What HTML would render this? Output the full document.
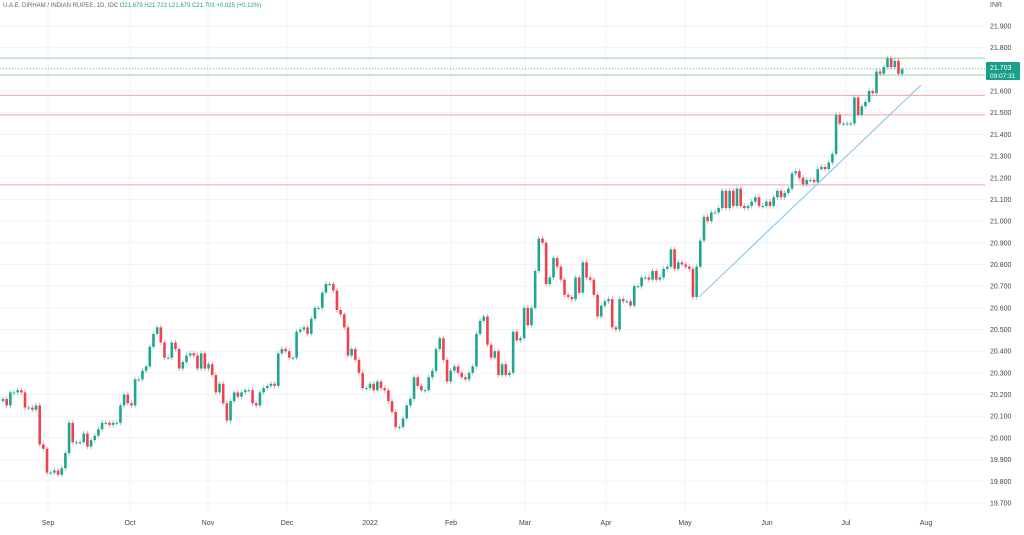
<!DOCTYPE html>
<html><head><meta charset="utf-8"><style>
body{margin:0;background:#fff;font-family:"Liberation Sans",sans-serif}
svg text{font-family:"Liberation Sans",sans-serif}
</style></head><body>
<svg id="chart" width="1024" height="530" xmlns="http://www.w3.org/2000/svg">
<rect width="1024" height="530" fill="#fff"/>
<g id="grid"></g>
<g id="hlines"></g>
<g id="candles"></g>
<line x1="699" y1="297" x2="921" y2="85" stroke="#90c8f0" stroke-width="1.2"/>
<g id="yaxis"></g>
<g id="xaxis"></g>
<text x="990" y="7" font-size="7" fill="#555">INR</text>
<g>
<rect x="986" y="62" width="34" height="18" rx="1" fill="#1a9f88"/>
<text x="990" y="70" font-size="7" fill="#fff">21.703</text>
<text x="990" y="78" font-size="6.5" fill="#fff">09:07:31</text>
</g>
<text x="3" y="7" font-size="6" fill="#666">U.A.E. DIRHAM / INDIAN RUPEE, 1D, IDC <tspan fill="#1a9f88">O21.679 H21.722 L21.679 C21.703 +0.025 (+0.12%)</tspan></text>
</svg>
<script>
const closes=[20.18,20.15,20.21,20.21,20.22,20.21,20.14,20.14,20.13,20.15,19.97,19.95,19.84,19.84,19.85,19.83,19.86,19.93,20.07,19.98,19.98,19.98,20.02,19.96,19.99,20.01,20.04,20.07,20.07,20.06,20.07,20.07,20.15,20.20,20.16,20.15,20.27,20.27,20.31,20.33,20.42,20.48,20.51,20.44,20.37,20.37,20.44,20.41,20.32,20.35,20.38,20.39,20.38,20.32,20.39,20.32,20.34,20.29,20.21,20.25,20.16,20.08,20.17,20.21,20.19,20.21,20.22,20.22,20.16,20.15,20.21,20.23,20.24,20.25,20.24,20.39,20.41,20.40,20.37,20.37,20.49,20.50,20.51,20.48,20.55,20.60,20.60,20.67,20.71,20.71,20.68,20.59,20.57,20.51,20.38,20.41,20.36,20.30,20.23,20.23,20.25,20.22,20.26,20.23,20.22,20.17,20.12,20.05,20.05,20.09,20.15,20.18,20.28,20.24,20.22,20.22,20.28,20.31,20.41,20.46,20.36,20.26,20.31,20.33,20.30,20.28,20.27,20.30,20.33,20.48,20.54,20.56,20.43,20.37,20.40,20.29,20.34,20.29,20.30,20.49,20.45,20.46,20.60,20.52,20.60,20.77,20.92,20.90,20.71,20.74,20.83,20.79,20.73,20.66,20.65,20.64,20.74,20.67,20.81,20.74,20.73,20.66,20.56,20.61,20.63,20.64,20.51,20.50,20.64,20.63,20.63,20.61,20.70,20.70,20.74,20.74,20.73,20.77,20.73,20.74,20.78,20.79,20.87,20.78,20.81,20.80,20.79,20.78,20.65,20.79,20.91,21.02,21.00,21.04,21.04,21.06,21.14,21.06,21.14,21.07,21.15,21.07,21.06,21.07,21.09,21.11,21.07,21.07,21.09,21.07,21.11,21.14,21.11,21.13,21.15,21.22,21.23,21.20,21.17,21.19,21.19,21.18,21.24,21.25,21.24,21.27,21.31,21.49,21.45,21.45,21.45,21.45,21.57,21.49,21.53,21.55,21.60,21.59,21.69,21.68,21.71,21.75,21.71,21.74,21.68,21.70];
const yTicks=[21.9,21.8,21.7,21.6,21.5,21.4,21.3,21.2,21.1,21.0,20.9,20.8,20.7,20.6,20.5,20.4,20.3,20.2,20.1,20.0,19.9,19.8,19.7];
const monthLabels=["Sep","Oct","Nov","Dec","2022","Feb","Mar","Apr","May","Jun","Jul","Aug"];
const monthX=[48,130,208,287,370,451,525,606,685,767,846,926];
const greenLevels=[21.752,21.674];
const redLevels=[21.58,21.49,21.167];
const lastPrice=21.703;

const NS="http://www.w3.org/2000/svg";
const y=v=>26+(21.9-v)*216.8;
const x=i=>3+i*3.67;
function mk(tag,attrs,parent){const e=document.createElementNS(NS,tag);for(const k in attrs)e.setAttribute(k,attrs[k]);parent.appendChild(e);return e;}
const grid=document.getElementById('grid'),ya=document.getElementById('yaxis'),xa=document.getElementById('xaxis'),hl=document.getElementById('hlines'),cg=document.getElementById('candles');
yTicks.forEach(t=>{
 const l=mk('line',{x1:0,x2:985,y1:y(t),y2:y(t),stroke:'#f2f3f6','stroke-width':1},grid);
 
 
 const tx=mk('text',{x:990,y:y(t)+2.5,'font-size':7,fill:'#444'},ya);tx.textContent=t.toFixed(3);
 
 
});
monthLabels.forEach((m,i)=>{
 const l=mk('line',{x1:monthX[i],x2:monthX[i],y1:0,y2:512,stroke:'#f2f3f6','stroke-width':1},grid);
 
 
 const tx=mk('text',{x:monthX[i],y:525,'font-size':7,fill:'#444','text-anchor':'middle'},xa);tx.textContent=m;
 
 
});
greenLevels.forEach(v=>{const l=mk('line',{x1:0,x2:985,y1:y(v),y2:y(v),stroke:'#8fd49a','stroke-width':1},hl);
 
 });
redLevels.forEach(v=>{const l=mk('line',{x1:0,x2:985,y1:y(v),y2:y(v),stroke:'#f4a3a8','stroke-width':1},hl);
 
 });
const lp=mk('line',{x1:0,x2:985,y1:y(lastPrice),y2:y(lastPrice),stroke:'#5cbfae','stroke-width':0.8,'stroke-dasharray':'1 2'},hl);


closes.forEach((c,i)=>{
 const o=i===0?20.17:closes[i-1];
 const up=c>=o,col=up?'#1fa68f':'#f0414f';
 const hi=Math.max(o,c)+0.012,lo=Math.min(o,c)-0.012;
 const g=mk('g',{},cg);
 
 
 mk('line',{x1:x(i),x2:x(i),y1:y(hi),y2:y(lo),stroke:col,'stroke-width':0.8,opacity:0.6},g);
 const top=y(Math.max(o,c)),h=Math.max(1,y(Math.min(o,c))-top);
 mk('rect',{x:x(i)-1.3,y:top,width:2.6,height:h,fill:col},g);
});
</script>
</body></html>
